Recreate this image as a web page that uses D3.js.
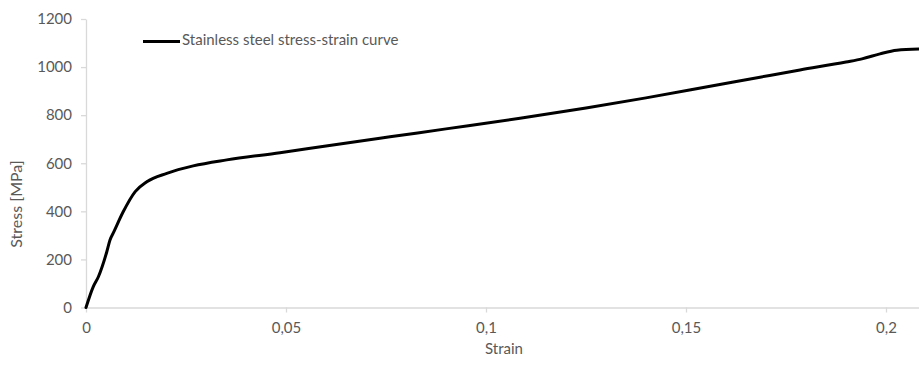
<!DOCTYPE html>
<html>
<head>
<meta charset="utf-8">
<script src="https://cdn.jsdelivr.net/npm/d3@7"></script>
<style>
  html, body { margin: 0; padding: 0; background: #ffffff; }
  svg { display: block; }
  text { font-family: Lato, "Open Sans", sans-serif; fill: #595959; }
</style>
</head>
<body>
<svg id="chart" width="919" height="369"></svg>
<script>
// Stainless steel tensile test: strain (–) vs. stress (MPa)
const strain = [0, 0.0018, 0.0031, 0.0052, 0.0060, 0.0068, 0.0093, 0.0123, 0.0152, 0.0202,
                0.0268, 0.0352, 0.0485, 0.0600, 0.0760, 0.0900, 0.1085, 0.1250, 0.1400,
                0.1550, 0.1685, 0.1785, 0.1900, 0.1940, 0.1985, 0.2027, 0.2083];
const stress = [0, 86, 128, 232, 281, 309, 398, 482, 523, 558,
                589, 614, 644, 672, 710, 743, 787, 830, 872,
                917, 958, 988, 1021, 1034, 1055, 1070, 1075];

const xTicks = [0, 0.05, 0.1, 0.15, 0.2];
const yTicks = [0, 200, 400, 600, 800, 1000, 1200];
const seriesName = "Stainless steel stress-strain curve";
const xTitle = "Strain";
const yTitle = "Stress [MPa]";

const svg = d3.select("#chart");
const axisColor = "#d9d9d9";
const fontSize = 15;

const x = d3.scaleLinear().domain([0, 0.20825]).range([86, 919]);
const y = d3.scaleLinear().domain([0, 1200]).range([307.5, 19]);

const fmtX = d => String(d).replace(".", ",");
const fmtY = d => String(d);

// X axis
const gx = svg.append("g").attr("transform", `translate(0,${y(0)})`)
  .call(d3.axisBottom(x).tickValues(xTicks).tickFormat(fmtX).tickSize(5).tickPadding(10).tickSizeOuter(0));
gx.select(".domain").attr("stroke", axisColor).attr("stroke-width", 1.3);
gx.selectAll(".tick line").attr("stroke", axisColor).attr("stroke-width", 1.3);
gx.selectAll(".tick text").attr("font-size", fontSize).style("font-family", "Lato, sans-serif").attr("fill", "#595959");

// Y axis
const gy = svg.append("g").attr("transform", `translate(${x(0)},0)`)
  .call(d3.axisLeft(y).tickValues(yTicks).tickFormat(fmtY).tickSize(5).tickPadding(9).tickSizeOuter(0));
gy.select(".domain").attr("stroke", axisColor).attr("stroke-width", 1.3);
gy.selectAll(".tick line").attr("stroke", axisColor).attr("stroke-width", 1.3);
gy.selectAll(".tick text").attr("font-size", fontSize).style("font-family", "Lato, sans-serif").attr("fill", "#595959");

// Axis titles
svg.append("text")
  .attr("x", 504).attr("y", 350)
  .attr("text-anchor", "middle").attr("dominant-baseline", "middle")
  .attr("font-size", fontSize).text(xTitle);

svg.append("text")
  .attr("transform", "translate(18,204) rotate(-90)")
  .attr("text-anchor", "middle").attr("dominant-baseline", "middle")
  .attr("font-size", 16).text(yTitle);

// Curve
const data = strain.map((s, i) => ({ s, v: stress[i] }));
const line = d3.line().x(d => x(d.s)).y(d => y(d.v)).curve(d3.curveMonotoneX);

svg.append("path")
  .datum(data)
  .attr("fill", "none")
  .attr("stroke", "#000000")
  .attr("stroke-width", 3)
  .attr("stroke-linejoin", "round")
  .attr("stroke-linecap", "round")
  .attr("d", line);

// Legend
const lg = svg.append("g").attr("transform", "translate(143,41.5)");
lg.append("line").attr("x1", 0).attr("x2", 37).attr("y1", 0).attr("y2", 0)
  .attr("stroke", "#000000").attr("stroke-width", 3);
lg.append("text").attr("x", 39).attr("y", 0)
  .attr("dominant-baseline", "middle")
  .attr("font-size", fontSize).text(seriesName);
</script>
</body>
</html>
